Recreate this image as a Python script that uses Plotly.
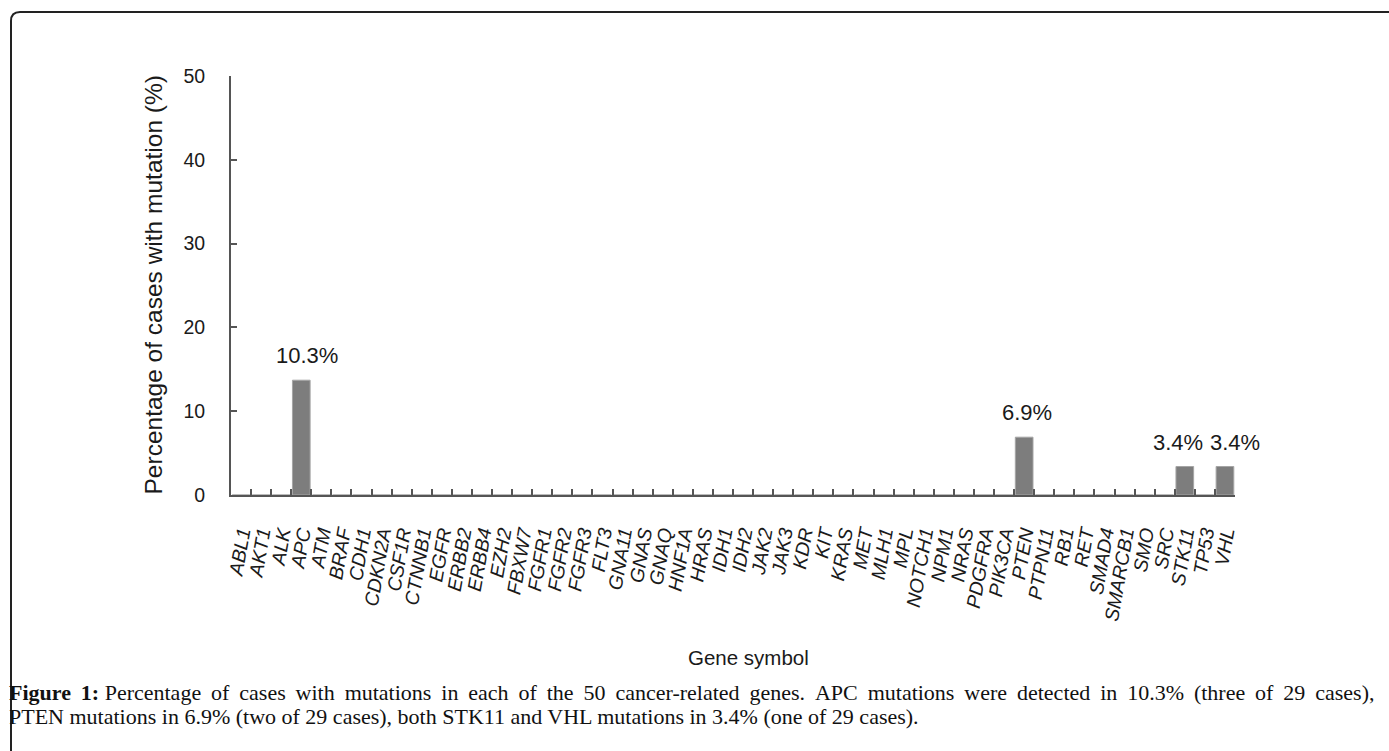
import plotly.graph_objects as go

# ---------------- data ----------------
genes = ["ABL1", "AKT1", "ALK", "APC", "ATM", "BRAF", "CDH1", "CDKN2A", "CSF1R", "CTNNB1",
         "EGFR", "ERBB2", "ERBB4", "EZH2", "FBXW7", "FGFR1", "FGFR2", "FGFR3", "FLT3", "GNA11",
         "GNAS", "GNAQ", "HNF1A", "HRAS", "IDH1", "IDH2", "JAK2", "JAK3", "KDR", "KIT",
         "KRAS", "MET", "MLH1", "MPL", "NOTCH1", "NPM1", "NRAS", "PDGFRA", "PIK3CA", "PTEN",
         "PTPN11", "RB1", "RET", "SMAD4", "SMARCB1", "SMO", "SRC", "STK11", "TP53", "VHL"]

# bar heights as drawn in the figure (%)
pct_values = [0, 0, 0, 13.7, 0, 0, 0, 0, 0, 0,
              0, 0, 0, 0, 0, 0, 0, 0, 0, 0,
              0, 0, 0, 0, 0, 0, 0, 0, 0, 0,
              0, 0, 0, 0, 0, 0, 0, 0, 0, 6.9,
              0, 0, 0, 0, 0, 0, 0, 3.4, 0, 3.4]

label_genes = ["APC", "PTEN", "STK11", "VHL"]
label_texts = ["10.3%", "6.9%", "3.4%", "3.4%"]

y_ticks = [0, 10, 20, 30, 40, 50]

caption_line1 = ("Percentage of cases with mutations in each of the 50 cancer-related genes. "
                 "APC mutations were detected in 10.3% (three of 29 cases),")
caption_line2 = ("PTEN mutations in 6.9% (two of 29 cases), both STK11 and VHL mutations in 3.4% "
                 "(one of 29 cases).")

# ---------------- styling / layout ----------------
W, H = 1389, 751
ML, MR, MT, MB = 231, 154, 76, 256
PW, PH = W - ML - MR, H - MT - MB

def px_x(px):
    return (px - ML) / PW

def px_y(py):
    return (H - MB - py) / PH

label_xshift = [6, 3, -7, 10]
sans = "Liberation Sans, Arial, sans-serif"
serif = "Liberation Serif, Times New Roman, serif"
axis_col = "#555555"
text_col = "#1a1a1a"

fig = go.Figure()
fig.add_trace(go.Bar(
    x=genes, y=pct_values,
    marker=dict(color="#7d7d7d", line=dict(color="#a5a5a5", width=1)),
    hoverinfo="x+y",
))

annotations = []
for g, t, dx in zip(label_genes, label_texts, label_xshift):
    v = pct_values[genes.index(g)]
    annotations.append(dict(
        x=g, y=v, xref="x", yref="y", text=t, showarrow=False,
        yanchor="bottom", xanchor="center", yshift=10, xshift=dx,
        font=dict(family=sans, size=22, color=text_col),
    ))

# axis titles
annotations.append(dict(
    x=px_x(153), y=0.5, xref="paper", yref="paper",
    text="Percentage of cases with mutation (%)", textangle=-90, showarrow=False,
    xanchor="center", yanchor="middle",
    font=dict(family=sans, size=24.5, color=text_col),
))
annotations.append(dict(
    x=px_x(748), y=px_y(657), xref="paper", yref="paper",
    text="Gene symbol", showarrow=False, xanchor="center", yanchor="middle",
    font=dict(family=sans, size=20.5, color=text_col),
))

# caption (first line justified to the full width with extra thin spaces)
justified_line1 = "<b>Figure\u2009 1:</b> " + caption_line1.replace(" ", " \u2009")
annotations.append(dict(
    x=px_x(7), y=px_y(692), xref="paper", yref="paper",
    text=justified_line1, showarrow=False, xanchor="left", yanchor="middle",
    font=dict(family=serif, size=22, color="#111111"),
))
annotations.append(dict(
    x=px_x(7), y=px_y(716), xref="paper", yref="paper",
    text=caption_line2, showarrow=False, xanchor="left", yanchor="middle",
    font=dict(family=serif, size=22, color="#111111"),
))

# frame: top line with rounded top-left corner, left line to bottom
r = 9
path = (f"M {px_x(W + 5)} {px_y(12)} L {px_x(11 + r)} {px_y(12)} "
        f"Q {px_x(11)} {px_y(12)} {px_x(11)} {px_y(12 + r)} "
        f"L {px_x(11)} {px_y(H + 5)}")
shapes = [dict(type="path", path=path, xref="paper", yref="paper",
               line=dict(color="#222222", width=2))]

fig.update_layout(
    width=W, height=H,
    margin=dict(l=ML, r=MR, t=MT, b=MB, pad=0),
    paper_bgcolor="white", plot_bgcolor="white",
    showlegend=False, bargap=0.12,
    annotations=annotations, shapes=shapes,
    xaxis=dict(
        type="category", range=[-0.5, len(genes) - 0.5],
        tickmode="array", tickvals=genes, ticktext=genes,
        showline=True, linecolor=axis_col, linewidth=2,
        ticks="inside", tickson="boundaries", ticklen=6, tickwidth=1.5, tickcolor=axis_col,
        tickangle=-80, ticklabelstandoff=17,
        tickfont=dict(family=sans, size=19.5, color=text_col, style="italic"),
        showgrid=False, zeroline=False, fixedrange=True,
    ),
    yaxis=dict(
        range=[0, 50], tickmode="array", tickvals=y_ticks,
        ticktext=[str(v) for v in y_ticks],
        showline=True, linecolor=axis_col, linewidth=2,
        ticks="inside", ticklen=6, tickwidth=1.5, tickcolor=axis_col,
        ticklabelstandoff=20,
        tickfont=dict(family=sans, size=19.5, color=text_col),
        showgrid=False, zeroline=False, fixedrange=True,
    ),
)

fig.write_html("out.html", config={"displayModeBar": False},
               post_script="document.body.style.margin='0';")
